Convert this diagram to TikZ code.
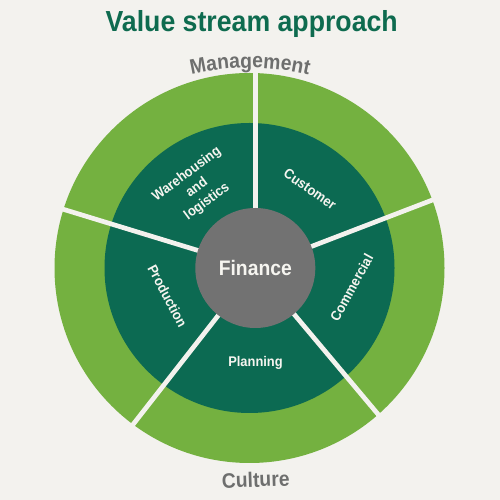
\documentclass[tikz,border=0pt]{standalone}
\usepackage{fontspec}
\setmainfont{Liberation Sans}
\newfontfamily\labfont[FakeStretch=0.92]{Liberation Sans}
\usetikzlibrary{decorations.text}
\definecolor{bgc}{HTML}{F3F2EE}
\definecolor{lgreen}{HTML}{74B140}
\definecolor{dgreen}{HTML}{0C6A52}
\definecolor{fgray}{HTML}{727272}
\definecolor{tgreen}{HTML}{0E6B4F}
\definecolor{lgray}{HTML}{6E6F6E}
\definecolor{wtext}{HTML}{F6F5F0}
\newcommand{\segfont}{\labfont\bfseries\fontsize{14}{17}\selectfont}
\newcommand{\outfont}{\labfont\bfseries\fontsize{21}{21}\selectfont\color{lgray}}
\tikzset{
  seglabel/.style={text=wtext, font=\segfont, align=center, inner sep=0pt},
  divider/.style={draw=bgc, line width=4.7pt},
  outlabel/.style={text=lgray, font=\outfont, inner sep=0pt}
}
\begin{document}
\begin{tikzpicture}[x=1pt,y=1pt]
\fill[bgc] (0,0) rectangle (500,500);
\useasboundingbox (0,0) rectangle (500,500);
% title
\node[text=tgreen, font=\labfont\bfseries\fontsize{29}{29}\selectfont, anchor=base, inner sep=0pt] (title) at (251.7,468.3) {Value stream approach};
% rings
\coordinate (rc) at (249.5,232);
\fill[lgreen] (rc) circle (195);
\fill[dgreen] (rc) circle (145);
% dividers
\coordinate (c) at (255.3,232);
\foreach \a/\n in {90/a,163/b,232/c,310/d,21/e}{
  \coordinate (end\n) at ([shift={(\a:215)}]c);
  \draw[divider] (c) -- (end\n);
}
% centre
\node[circle, fill=fgray, minimum size=120pt, inner sep=0pt, text=wtext, font=\labfont\bfseries\fontsize{21}{21}\selectfont] (fin) at (255.3,232) {Finance};
% segment labels
\node[seglabel, rotate=36.5] (wh) at (197,312) {Warehousing\\and\\logistics};
\node[seglabel, rotate=-35] (cu) at (310,311) {Customer};
\node[seglabel, rotate=61] (co) at (351.5,212.5) {Commercial};
\node[seglabel, rotate=-62] (pr) at (167.5,204) {Production};
\node[seglabel, anchor=base] (pl) at (255.5,133.3) {Planning};
% outer labels
\path[decorate, decoration={text along path, text align=center, text={|\outfont|Management}}]
  ([shift={(115:260)}]250,172) arc[start angle=115, end angle=65, radius=260];
\node[outlabel, anchor=base, rotate=2] (cul) at (256,13) {Culture};
\end{tikzpicture}
\end{document}
